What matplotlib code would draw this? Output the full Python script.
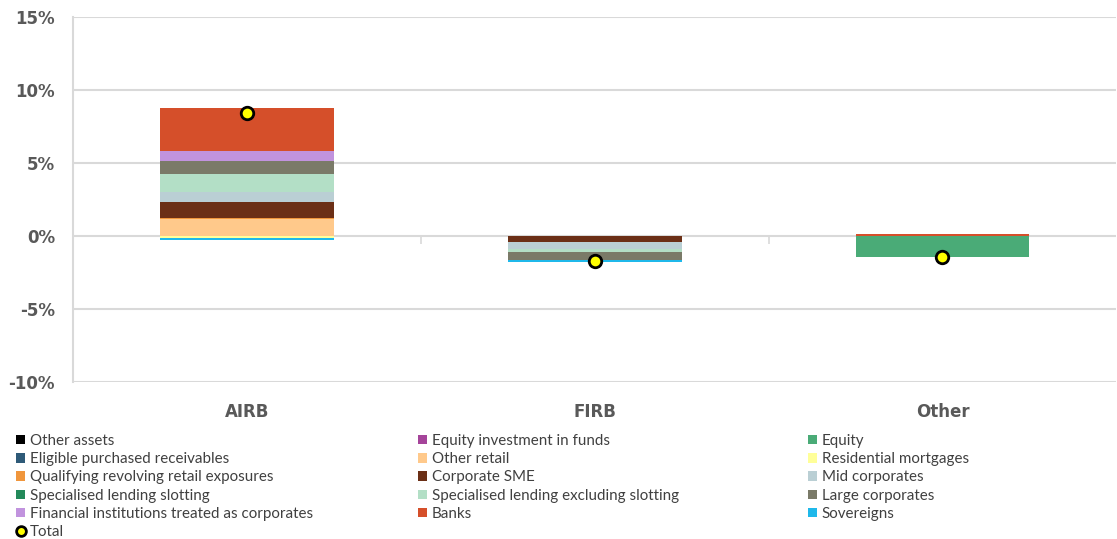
import matplotlib
matplotlib.use("Agg")
import matplotlib.pyplot as plt
from matplotlib.lines import Line2D
from matplotlib.patches import Patch
import numpy as np

categories = ["AIRB", "FIRB", "Other"]

series_names = [
    "Other assets", "Equity investment in funds", "Equity",
    "Eligible purchased receivables", "Other retail", "Residential mortgages",
    "Qualifying revolving retail exposures", "Corporate SME", "Mid corporates",
    "Specialised lending slotting", "Specialised lending excluding slotting",
    "Large corporates", "Financial institutions treated as corporates",
    "Banks", "Sovereigns",
]

other_assets = [0.0, 0.0, 0.0]
equity_inv_funds = [0.0, 0.0, 0.0]
equity = [0.0, 0.0, -1.45]
eligible_purchased = [0.0, 0.0, 0.0]
other_retail = [1.21, 0.0, 0.0]
residential_mortgages = [-0.12, 0.0, 0.0]
qrre = [0.07, 0.0, 0.0]
corporate_sme = [1.07, -0.42, 0.0]
mid_corporates = [0.68, -0.45, 0.0]
sl_slotting = [0.0, 0.0, 0.0]
sl_excl_slotting = [1.23, -0.23, 0.0]
large_corporates = [0.87, -0.55, 0.0]
fin_institutions = [0.68, 0.0, 0.0]
banks = [3.0, 0.0, 0.13]
sovereigns = [-0.17, -0.09, 0.0]
total = [8.45, -1.7, -1.45]

series_values = [
    other_assets, equity_inv_funds, equity, eligible_purchased, other_retail,
    residential_mortgages, qrre, corporate_sme, mid_corporates, sl_slotting,
    sl_excl_slotting, large_corporates, fin_institutions, banks, sovereigns,
]

colors = [
    "#000000", "#A5449A", "#4AAB77", "#2E5A78", "#FFC98B", "#FFFF99",
    "#F0963C", "#6B2F16", "#BACFD4", "#23895A", "#B3DFC6", "#7A7A68",
    "#C193DE", "#D54F2A", "#1FB8EA",
]

y_ticks = [-10, -5, 0, 5, 10, 15]

fig = plt.figure(figsize=(11.17, 5.39), dpi=100)
ax = fig.add_axes([0.0654, 0.291, 0.934, 0.677])

x = np.arange(len(categories))
pos_bottom = np.zeros(len(categories))
neg_bottom = np.zeros(len(categories))
for vals, col in zip(series_values, colors):
    v = np.array(vals, dtype=float)
    pos = np.where(v > 0, v, 0)
    neg = np.where(v < 0, v, 0)
    ax.bar(x, pos, bottom=pos_bottom, width=0.5, color=col, zorder=3)
    ax.bar(x, neg, bottom=neg_bottom, width=0.5, color=col, zorder=3)
    pos_bottom += pos
    neg_bottom += neg

ax.plot(x, total, linestyle="none", marker="o", markersize=9,
        markerfacecolor="#FFFF00", markeredgecolor="#000000",
        markeredgewidth=2, zorder=5)

ax.set_xlim(-0.5, 2.5)
ax.set_ylim(-10, 15)
ax.set_yticks(y_ticks)
ax.set_yticklabels([f"{t}%" for t in y_ticks], fontsize=12,
                   fontweight="bold", color="#595959", family="DejaVu Sans")
ax.tick_params(axis="y", length=0, pad=13)
ax.yaxis.grid(True, color="#D9D9D9", linewidth=1.5, zorder=0)
ax.set_axisbelow(True)

ax.set_xticks(x)
ax.set_xticklabels(categories, fontsize=12, fontweight="bold",
                   color="#595959", family="DejaVu Sans")
ax.tick_params(axis="x", length=0, pad=15)

for s in ["top", "right", "bottom"]:
    ax.spines[s].set_visible(False)
ax.spines["left"].set_color("#D9D9D9")
ax.spines["left"].set_linewidth(1.5)

sec = ax.secondary_xaxis(0.4)
sec.set_xticks([0.5, 1.5])
sec.set_xticklabels(["", ""])
sec.tick_params(axis="x", length=6, width=1.2, color="#D9D9D9", direction="out")
sec.spines["bottom"].set_visible(False)

col1 = [0, 3, 6, 9, 12]
col2 = [1, 4, 7, 10, 13]
col3 = [2, 5, 8, 11, 14]

def make_handles(idx):
    return [Patch(facecolor=colors[i], edgecolor="none") for i in idx]

leg_kw = dict(frameon=False, handlelength=0.6, handleheight=0.6,
              handletextpad=0.3, labelspacing=0.28, borderpad=0, borderaxespad=0,
              labelcolor="#404040", loc="upper left", prop={"family": "Lato", "size": 10.9})

h1 = make_handles(col1) + [Line2D([], [], linestyle="none", marker="o", markersize=7,
                                 markerfacecolor="#FFFF00", markeredgecolor="#000000",
                                 markeredgewidth=2)]
l1 = [series_names[i] for i in col1] + ["Total"]
top = 1 - 434 / 539
fig.legend(h1, l1, bbox_to_anchor=(16 / 1117, top), **leg_kw)
fig.legend(make_handles(col2), [series_names[i] for i in col2],
           bbox_to_anchor=(418 / 1117, top), **leg_kw)
fig.legend(make_handles(col3), [series_names[i] for i in col3],
           bbox_to_anchor=(808 / 1117, top), **leg_kw)

fig.savefig("out.png", dpi=100)
